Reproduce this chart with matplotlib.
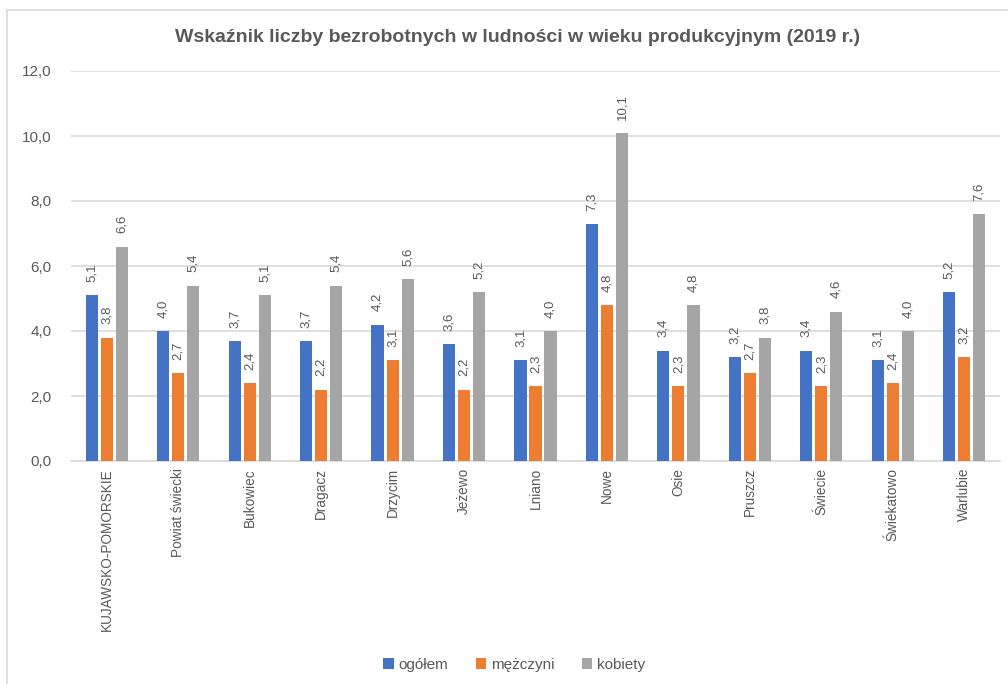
import matplotlib
matplotlib.use("Agg")
import matplotlib.pyplot as plt
from matplotlib.patches import Rectangle
import numpy as np

categories = ["KUJAWSKO-POMORSKIE", "Powiat świecki", "Bukowiec", "Dragacz", "Drzycim",
              "Jeżewo", "Lniano", "Nowe", "Osie", "Pruszcz", "Świecie", "Świekatowo", "Warlubie"]
ogolem = [5.1, 4.0, 3.7, 3.7, 4.2, 3.6, 3.1, 7.3, 3.4, 3.2, 3.4, 3.1, 5.2]
mezczyzni = [3.8, 2.7, 2.4, 2.2, 3.1, 2.2, 2.3, 4.8, 2.3, 2.7, 2.3, 2.4, 3.2]
kobiety = [6.6, 5.4, 5.1, 5.4, 5.6, 5.2, 4.0, 10.1, 4.8, 3.8, 4.6, 4.0, 7.6]
series_names = ["ogółem", "mężczyni", "kobiety"]
colors = ["#4472C4", "#ED7D31", "#A5A5A5"]

plt.rcParams['font.family'] = ['Liberation Sans', 'DejaVu Sans']
txt = "#595959"

fig = plt.figure(figsize=(10.08, 6.84), dpi=100)
# chart frame (only left/top edge visible in the screenshot)
fig.patches.append(Rectangle((7 / 1008, -0.1), 1.2, (674 + 68) / 684, transform=fig.transFigure,
                             fill=False, edgecolor="#D9D9D9", linewidth=1.2))

ax = fig.add_axes([71 / 1008, 1 - 461 / 684, 929 / 1008, 390 / 684])
x = np.arange(len(categories))
w = 0.17
step = 0.21
for i, (vals, name, c) in enumerate(zip([ogolem, mezczyzni, kobiety], series_names, colors)):
    pos = x + (i - 1) * step
    ax.bar(pos, vals, width=w, color=c, label=name, zorder=3)
    for p, v in zip(pos, vals):
        ax.annotate(f"{v:.1f}".replace(".", ","), (p, v), xytext=(0, 9.5), textcoords="offset points",
                    rotation=90, ha="center", va="bottom", fontsize=9.5, color=txt)

ax.set_xlim(-0.5, len(categories) - 0.5)
ax.set_ylim(0, 12)
ax.set_yticks(np.arange(0, 12.1, 2))
ax.set_yticklabels([f"{t:.1f}".replace(".", ",") for t in np.arange(0, 12.1, 2)])
ax.set_xticks(x)
ax.set_xticklabels(categories, rotation=90, va="top", ha="center")
ax.tick_params(axis="both", length=0, labelsize=11, colors=txt)
ax.tick_params(axis="x", pad=5, labelsize=9.8)
ax.tick_params(axis="y", pad=14)
ax.grid(axis="y", color="#D9D9D9", linewidth=1.2, zorder=0)
for s in ["top", "right", "left"]:
    ax.spines[s].set_visible(False)
ax.spines["bottom"].set_color("#D9D9D9")
ax.spines["bottom"].set_linewidth(1.2)

fig.text(0.513, 1 - 38 / 684, "Wskaźnik liczby bezrobotnych w ludności w wieku produkcyjnym (2019 r.)",
         ha="center", va="center", fontsize=14, fontweight="bold", color=txt)

fig.legend(loc="center", bbox_to_anchor=(0.51, 1 - 665 / 684), ncol=3, frameon=False,
           fontsize=11, handlelength=0.7, handleheight=0.7, handletextpad=0.3, columnspacing=1.8,
           labelcolor=txt)

fig.savefig("out.png", dpi=100)
